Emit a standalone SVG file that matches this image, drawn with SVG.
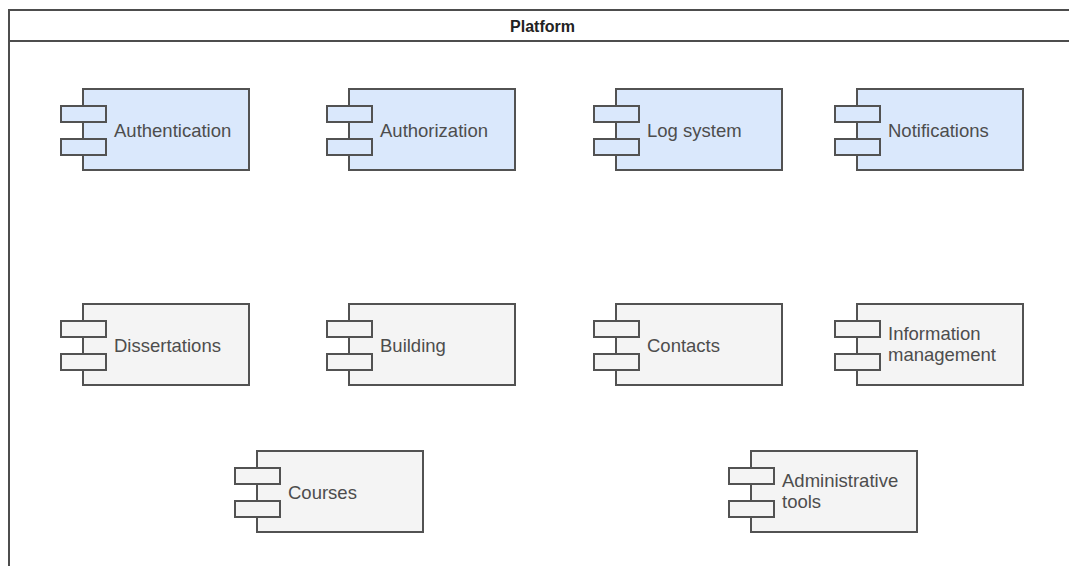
<svg xmlns="http://www.w3.org/2000/svg" width="1069" height="566" viewBox="0 0 1069 566">
  <style>
    .frame { fill: #ffffff; stroke: #4d4d4d; stroke-width: 2; }
    .title { font-family: "Liberation Sans", Arial, sans-serif; font-size: 16px; font-weight: bold; fill: #222222; text-anchor: middle; }
    .body { stroke: #525252; stroke-width: 2; }
    .blue { fill: #dae8fc; }
    .grey { fill: #f4f4f4; }
    .label { font-family: "Liberation Sans", Arial, sans-serif; font-size: 18.5px; fill: #4d4d4d; }
  </style>
  <defs>
    <!-- UML component shape: main box plus two port tabs, origin at main box top-left -->
    <g id="comp">
      <rect class="body" x="0" y="0" width="166" height="81"/>
      <rect class="body" x="-22" y="17" width="45" height="16"/>
      <rect class="body" x="-22" y="50" width="45" height="16"/>
    </g>
  </defs>

  <!-- Container -->
  <g id="platform">
    <rect class="frame" x="9" y="10" width="1070" height="600"/>
    <line x1="9" y1="41" x2="1079" y2="41" stroke="#4d4d4d" stroke-width="2"/>
    <text class="title" x="542.5" y="32">Platform</text>
  </g>

  <!-- Core services -->
  <g id="authentication" class="blue" transform="translate(83,89)">
    <use href="#comp"/>
    <text class="label" x="31" y="48">Authentication</text>
  </g>
  <g id="authorization" class="blue" transform="translate(349,89)">
    <use href="#comp"/>
    <text class="label" x="31" y="48">Authorization</text>
  </g>
  <g id="log-system" class="blue" transform="translate(616,89)">
    <use href="#comp"/>
    <text class="label" x="31" y="48">Log system</text>
  </g>
  <g id="notifications" class="blue" transform="translate(857,89)">
    <use href="#comp"/>
    <text class="label" x="31" y="48">Notifications</text>
  </g>

  <!-- Domain modules -->
  <g id="dissertations" class="grey" transform="translate(83,304)">
    <use href="#comp"/>
    <text class="label" x="31" y="48">Dissertations</text>
  </g>
  <g id="building" class="grey" transform="translate(349,304)">
    <use href="#comp"/>
    <text class="label" x="31" y="48">Building</text>
  </g>
  <g id="contacts" class="grey" transform="translate(616,304)">
    <use href="#comp"/>
    <text class="label" x="31" y="48">Contacts</text>
  </g>
  <g id="information-management" class="grey" transform="translate(857,304)">
    <use href="#comp"/>
    <text class="label" x="31" y="36">Information</text>
    <text class="label" x="31" y="57">management</text>
  </g>
  <g id="courses" class="grey" transform="translate(257,451)">
    <use href="#comp"/>
    <text class="label" x="31" y="48">Courses</text>
  </g>
  <g id="administrative-tools" class="grey" transform="translate(751,451)">
    <use href="#comp"/>
    <text class="label" x="31" y="36">Administrative</text>
    <text class="label" x="31" y="57">tools</text>
  </g>

  <!-- No connectors between components -->
  <g id="connectors"/>
</svg>
